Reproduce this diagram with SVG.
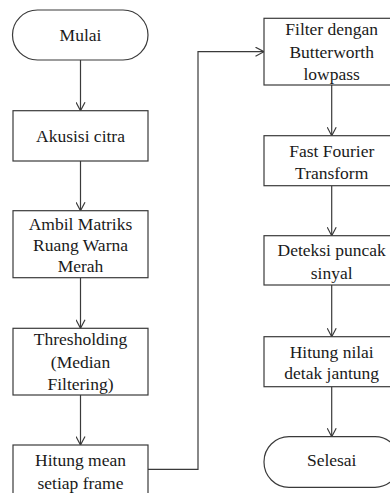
<svg xmlns="http://www.w3.org/2000/svg" width="390" height="493" viewBox="0 0 390 493">
<defs>
<marker id="ah" viewBox="0 0 10 10" refX="9.5" refY="5" markerWidth="10" markerHeight="10" markerUnits="userSpaceOnUse" orient="auto">
<polyline points="1,0.5 9.5,5 1,9.5" fill="none" stroke="#3a3a3a" stroke-width="1.2"/>
</marker>
</defs>
<style>
.n{fill:#fff;stroke:#3a3a3a;stroke-width:1.2}
.c{fill:none;stroke:#3a3a3a;stroke-width:1.2}
text{font-family:'Liberation Serif',serif;font-size:17.5px;fill:#1a1a1a;text-anchor:middle}
</style>
<rect width="390" height="493" fill="#fff"/>
<g id="connectors">
<line class="c" x1="80.5" y1="60" x2="80.5" y2="110.7" marker-end="url(#ah)"/>
<line class="c" x1="80.5" y1="161" x2="80.5" y2="210.7" marker-end="url(#ah)"/>
<line class="c" x1="80.5" y1="277.7" x2="80.5" y2="328.3" marker-end="url(#ah)"/>
<line class="c" x1="80.5" y1="395" x2="80.5" y2="445" marker-end="url(#ah)"/>
<polyline class="c" points="148,469.3 198,469.3 198,51.7 264,51.7" marker-end="url(#ah)"/>
<line class="c" x1="331.7" y1="85" x2="331.7" y2="135.7" marker-end="url(#ah)"/>
<line class="c" x1="331.7" y1="185.7" x2="331.7" y2="235.7" marker-end="url(#ah)"/>
<line class="c" x1="331.7" y1="285" x2="331.7" y2="336.7" marker-end="url(#ah)"/>
<line class="c" x1="331.7" y1="386.7" x2="331.7" y2="436.7" marker-end="url(#ah)"/>
</g>
<g id="mulai">
<rect class="n" x="12.5" y="10" width="135.5" height="50" rx="25" ry="25"/>
<text x="80.5" y="41">Mulai</text>
</g>
<g id="akusisi">
<rect class="n" x="13" y="110.7" width="135" height="50.3"/>
<text x="80.5" y="142">Akusisi citra</text>
</g>
<g id="ambil">
<rect class="n" x="13" y="210.7" width="135" height="67"/>
<text x="80.5" y="230">Ambil Matriks</text>
<text x="80.5" y="251">Ruang Warna</text>
<text x="80.5" y="272">Merah</text>
</g>
<g id="thresholding">
<rect class="n" x="13" y="328.3" width="135" height="66.7"/>
<text x="80.5" y="345">Thresholding</text>
<text x="80.5" y="367.5">(Median</text>
<text x="80.5" y="390">Filtering)</text>
</g>
<g id="hitungmean">
<rect class="n" x="13" y="445" width="135" height="52"/>
<text x="80.5" y="466">Hitung mean</text>
<text x="80.5" y="488.5">setiap frame</text>
</g>
<g id="filter">
<rect class="n" x="264" y="18.3" width="135.5" height="66.7"/>
<text x="331.7" y="35">Filter dengan</text>
<text x="331.7" y="57.5">Butterworth</text>
<text x="331.7" y="80">lowpass</text>
</g>
<g id="fft">
<rect class="n" x="264" y="135.7" width="135.5" height="50"/>
<text x="331.7" y="157">Fast Fourier</text>
<text x="331.7" y="178.5">Transform</text>
</g>
<g id="deteksi">
<rect class="n" x="264" y="235.7" width="135.5" height="49.3"/>
<text x="331.7" y="256">Deteksi puncak</text>
<text x="331.7" y="279">sinyal</text>
</g>
<g id="hitungnilai">
<rect class="n" x="264" y="336.7" width="135.5" height="50"/>
<text x="331.7" y="357.5">Hitung nilai</text>
<text x="331.7" y="379">detak jantung</text>
</g>
<g id="selesai">
<rect class="n" x="264" y="436.7" width="136" height="50.6" rx="25" ry="25"/>
<text x="331.7" y="466">Selesai</text>
</g>
</svg>
